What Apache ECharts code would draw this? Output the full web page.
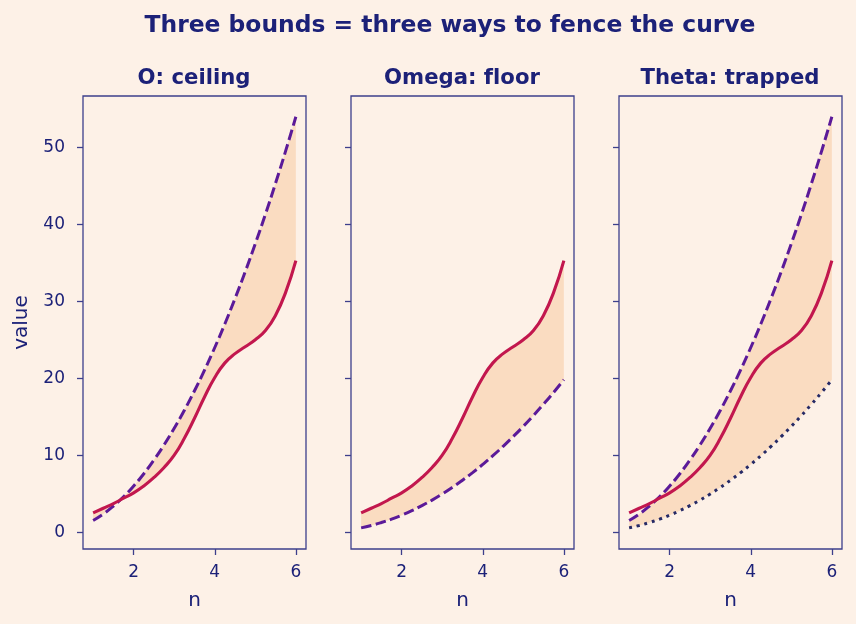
<!DOCTYPE html>
<html>
<head>
<meta charset="utf-8">
<script src="https://cdn.jsdelivr.net/npm/echarts@6/dist/echarts.min.js"></script>
<style>
  html, body { margin: 0; padding: 0; background: #fdf1e7; }
  #chart { width: 856px; height: 624px; }
</style>
</head>
<body>
<div id="chart"></div>
<script>
// n values, step 0.25
const n_values = [1, 1.25, 1.5, 1.75, 2, 2.25, 2.5, 2.75, 3, 3.25, 3.5, 3.75, 4, 4.25, 4.5, 4.75, 5, 5.25, 5.5, 5.75, 6];
// the curve being fenced
const f_values = [2.5, 3.1, 3.7, 4.4, 5.1, 6.0, 7.1, 8.4, 10.0, 12.2, 14.8, 17.6, 20.1, 22.0, 23.2, 24.1, 25.0, 26.2, 28.2, 31.2, 35.3];
// upper bound (dashed)
const upper_values = [1.5, 2.34, 3.38, 4.59, 6.0, 7.59, 9.38, 11.34, 13.5, 15.84, 18.38, 21.09, 24.0, 27.09, 30.38, 33.84, 37.5, 41.34, 45.38, 49.59, 54.0];
// lower bound (dashed / dotted)
const lower_values = [0.55, 0.86, 1.24, 1.68, 2.2, 2.78, 3.44, 4.16, 4.95, 5.81, 6.74, 7.73, 8.8, 9.93, 11.14, 12.41, 13.75, 15.16, 16.64, 18.18, 19.8];
// zero-width non-joiner keeps "fl" from turning into a ligature
const panel_titles = ['O: ceiling', 'Omega: f\u200Cloor', 'Theta: trapped'];
const y_ticks = [0, 10, 20, 30, 40, 50];
const x_ticks = [2, 4, 6];

const text_color = '#1c2178';
const frame_color = '#3d3f8c';
const red = '#c2174e';
const purple = '#5b1a99';
const navy = '#262a66';
const fill_color = 'rgba(246,196,152,0.48)';
const font = 'DejaVu Sans';

let chart = echarts.init(document.getElementById('chart'), null, { renderer: 'canvas' });

const pairs = vals => n_values.map((n, i) => [n, vals[i]]);

const lefts = [83, 351, 619];
const grid_w = 223;

let grids = [], x_axes = [], y_axes = [], series = [];
let titles = [{
    text: 'Three bounds = three ways to fence the curve',
    left: 445, top: 9, textAlign: 'center',
    textStyle: { color: text_color, fontFamily: font, fontWeight: 'bold', fontSize: 23.4 }
}];

function band_series(i, low, high) {
    return {
        type: 'custom', xAxisIndex: i, yAxisIndex: i, silent: true, z: 1,
        data: [[n_values[0], low[0]]],
        renderItem: (params, api) => {
            let pts = high.map((v, k) => api.coord([n_values[k], v]));
            let back = low.map((v, k) => api.coord([n_values[k], v])).reverse();
            return { type: 'polygon', shape: { points: pts.concat(back) }, style: { fill: fill_color } };
        }
    };
}

lefts.forEach((left, i) => {
    grids.push({ left: left, top: 96, width: grid_w, height: 453, show: true,
        borderColor: frame_color, borderWidth: 1.3, backgroundColor: 'transparent' });
    titles.push({ text: panel_titles[i], left: left + grid_w / 2 - 5.5, top: 63, textAlign: 'center',
        textStyle: { color: text_color, fontFamily: font, fontWeight: 'bold', fontSize: 21.2 } });
    x_axes.push({
        type: 'value', gridIndex: i, min: 0.75, max: 6.25,
        name: 'n', nameLocation: 'middle', nameGap: 42,
        nameTextStyle: { color: text_color, fontFamily: font, fontSize: 20 },
        axisLine: { show: false, onZero: false }, splitLine: { show: false },
        axisTick: { show: true, length: 6, customValues: x_ticks, lineStyle: { color: frame_color, width: 1.3 } },
        axisLabel: { show: true, customValues: x_ticks, margin: 15, color: text_color, fontFamily: font, fontSize: 17 }
    });
    y_axes.push({
        type: 'value', gridIndex: i, min: -2.2, max: 56.7,
        name: i == 0 ? 'value' : '', nameLocation: 'middle', nameGap: 51,
        nameTextStyle: { color: text_color, fontFamily: font, fontSize: 20 },
        axisLine: { show: false, onZero: false }, splitLine: { show: false },
        axisTick: { show: true, length: 6, customValues: y_ticks, lineStyle: { color: frame_color, width: 1.3 } },
        axisLabel: { show: i == 0, customValues: y_ticks, margin: 18, color: text_color, fontFamily: font, fontSize: 17 }
    });

    // shaded band between the curve and its bound(s)
    let band_low = i == 0 ? f_values : lower_values;
    let band_high = i == 1 ? f_values : upper_values;
    series.push(band_series(i, band_low, band_high));

    if (i != 1) {
        series.push({
            type: 'line', xAxisIndex: i, yAxisIndex: i, data: pairs(upper_values), smooth: true,
            showSymbol: false, z: 3,
            lineStyle: { color: purple, width: 3, type: [10.5, 4.5], cap: 'butt' }
        });
    }
    if (i == 1) {
        series.push({
            type: 'line', xAxisIndex: i, yAxisIndex: i, data: pairs(lower_values), smooth: true,
            showSymbol: false, z: 3,
            lineStyle: { color: purple, width: 3, type: [10.5, 4.5], cap: 'butt' }
        });
    }
    if (i == 2) {
        series.push({
            type: 'line', xAxisIndex: i, yAxisIndex: i, data: pairs(lower_values), smooth: true,
            showSymbol: false, z: 3,
            lineStyle: { color: navy, width: 3, type: [3, 4.8], cap: 'butt' }
        });
    }
    series.push({
        type: 'line', xAxisIndex: i, yAxisIndex: i, data: pairs(f_values), smooth: true,
        showSymbol: false, z: 4,
        lineStyle: { color: red, width: 3.1 }
    });
});

chart.setOption({
    backgroundColor: '#fdf1e7',
    animation: false,
    title: titles,
    grid: grids,
    xAxis: x_axes,
    yAxis: y_axes,
    series: series
});
</script>
</body>
</html>
